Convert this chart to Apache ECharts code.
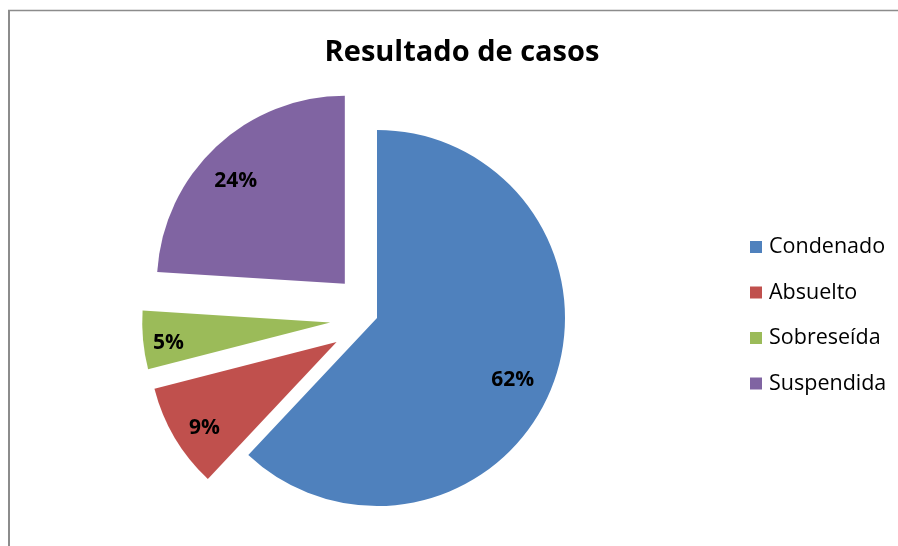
<!DOCTYPE html>
<html>
<head>
<meta charset="utf-8">
<script src="https://cdn.jsdelivr.net/npm/echarts@6/dist/echarts.min.js"></script>
<style>
html,body{margin:0;padding:0;background:#fff;}
#c{width:898px;height:546px;}
</style>
</head>
<body>
<div id="c"></div>
<script>
const titleText = 'Resultado de casos';
const categories = ['Condenado', 'Absuelto', 'Sobreseída', 'Suspendida'];
const values = [62, 9, 5, 24];
const exploded = [false, true, true, true];
const colors = ['#4F81BD', '#C0504D', '#9BBB59', '#8064A2'];

const FONT = '"Open Sans"';
const center = [377, 318];
const R = 188;
const labelNudge = [[-7, 6], [0, 8], [-9, 6], [-4, 9]];

const pieData = categories.map((n, i) => ({
  name: n, value: values[i], selected: exploded[i],
  itemStyle: { color: colors[i] }
}));
const labelData = categories.map((n, i) => ({
  name: n, value: values[i], selected: exploded[i]
}));

const chart = echarts.init(document.getElementById('c'), null, { renderer: 'canvas' });
chart.setOption({
  animation: false,
  backgroundColor: '#fff',
  title: {
    text: titleText,
    left: 457, top: 33, textAlign: 'center',
    textStyle: { fontFamily: FONT, fontWeight: 'bold', fontSize: 29, color: '#000' }
  },
  legend: {
    orient: 'vertical',
    left: 745, top: 231,
    icon: 'rect', itemWidth: 12, itemHeight: 12, itemGap: 23.5,
    selectedMode: false,
    data: categories,
    textStyle: { fontFamily: FONT, fontSize: 21.5, color: '#000', padding: [0, 0, 0, 2] }
  },
  graphic: [
    { type: 'line', shape: { x1: 9, y1: 10, x2: 9, y2: 546 }, style: { stroke: '#8c8c8c', lineWidth: 2 }, silent: true },
    { type: 'line', shape: { x1: 8, y1: 10.5, x2: 898, y2: 10.5 }, style: { stroke: '#8c8c8c', lineWidth: 1.5 }, silent: true }
  ],
  series: [
    {
      type: 'pie',
      center: center,
      radius: [0, R],
      startAngle: 90,
      clockwise: true,
      selectedMode: 'multiple',
      selectedOffset: 47,
      silent: true,
      label: { show: false },
      labelLine: { show: false },
      emphasis: { disabled: true },
      itemStyle: { borderWidth: 0 },
      data: pieData
    },
    {
      type: 'pie',
      center: center,
      radius: [R * 0.6, R],
      startAngle: 90,
      clockwise: true,
      selectedMode: 'multiple',
      selectedOffset: 47,
      silent: true,
      emphasis: { disabled: true },
      itemStyle: { color: 'rgba(0,0,0,0)', borderWidth: 0 },
      label: {
        show: true, position: 'inside',
        formatter: p => Math.round(p.percent) + '%',
        fontFamily: FONT, fontWeight: 'bold', fontSize: 21, color: '#000'
      },
      labelLayout: p => ({ dx: labelNudge[p.dataIndex][0], dy: labelNudge[p.dataIndex][1] }),
      labelLine: { show: false },
      data: labelData
    }
  ]
});
</script>
</body>
</html>
